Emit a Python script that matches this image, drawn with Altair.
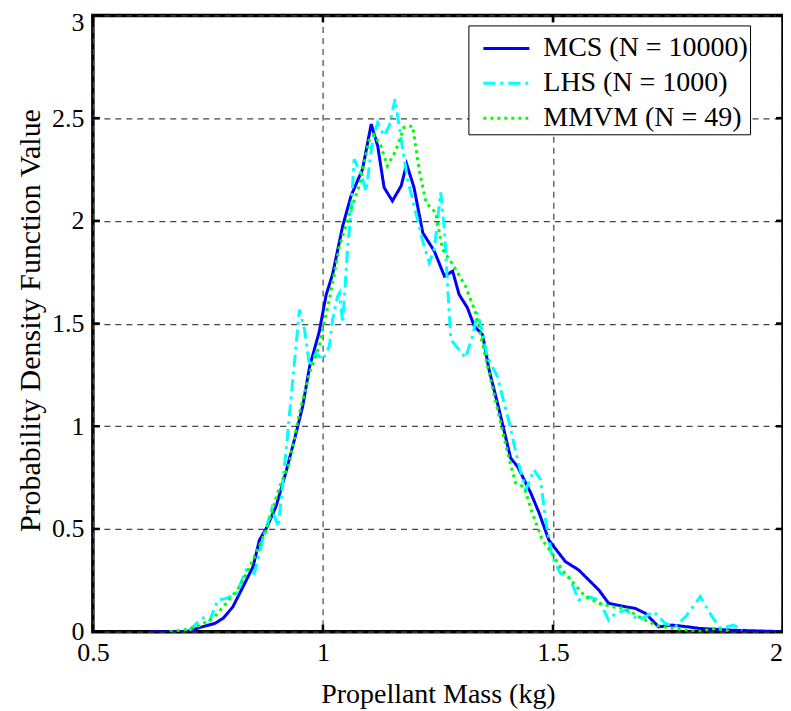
import altair as alt
import pandas as pd

# ---------------- data ----------------
series_names = ["MCS (N = 10000)", "LHS (N = 1000)", "MMVM (N = 49)"]
series_colors = ["#0000FF", "#00FFFF", "#00FF00"]
series_dashes = [[1, 0], [12, 5, 3, 5], [3, 4]]

mcs_x = [0.624, 0.704, 0.732, 0.765, 0.783, 0.804, 0.830, 0.848, 0.862, 0.877,
         0.898, 0.920, 0.938, 0.956, 0.971, 0.992, 1.007, 1.021, 1.043, 1.061,
         1.086, 1.105, 1.119, 1.133, 1.151, 1.170, 1.182, 1.198, 1.217, 1.242,
         1.264, 1.282, 1.296, 1.314, 1.329, 1.347, 1.361, 1.383, 1.408, 1.423,
         1.452, 1.470, 1.491, 1.527, 1.556, 1.600, 1.621, 1.658, 1.679, 1.701,
         1.730, 1.759, 1.795, 1.817, 1.888, 2.000]
mcs_y = [0.0, 0.0, 0.02, 0.04, 0.065, 0.12, 0.235, 0.316, 0.446, 0.503,
         0.609, 0.78, 0.934, 1.097, 1.29, 1.46, 1.64, 1.74, 1.975, 2.121,
         2.251, 2.471, 2.365, 2.162, 2.097, 2.17, 2.276, 2.162, 1.942, 1.853,
         1.731, 1.755, 1.641, 1.577, 1.487, 1.446, 1.276, 1.08, 0.845, 0.804,
         0.674, 0.577, 0.446, 0.341, 0.30, 0.202, 0.138, 0.121, 0.113, 0.089,
         0.023, 0.032, 0.023, 0.016, 0.007, 0.0]

lhs_x = [0.710, 0.725, 0.743, 0.754, 0.772, 0.790, 0.812, 0.833, 0.851, 0.869,
         0.889, 0.903, 0.920, 0.938, 0.949, 0.960, 0.971, 0.985, 1.000, 1.014,
         1.021, 1.032, 1.036, 1.043, 1.054, 1.061, 1.068, 1.083, 1.094, 1.108,
         1.119, 1.133, 1.144, 1.157, 1.170, 1.184, 1.202, 1.216, 1.231, 1.242,
         1.256, 1.264, 1.271, 1.278, 1.310, 1.325, 1.336, 1.347, 1.357, 1.379,
         1.405, 1.423, 1.441, 1.459, 1.473, 1.484, 1.498, 1.516, 1.535, 1.556,
         1.578, 1.600, 1.621, 1.636, 1.658, 1.687, 1.719, 1.744, 1.766, 1.788,
         1.820, 1.846, 1.864, 1.893, 1.911]
lhs_y = [0.007, 0.04, 0.072, 0.056, 0.154, 0.162, 0.186, 0.30, 0.284, 0.446,
         0.60, 0.511, 0.885, 1.308, 1.568, 1.471, 1.292, 1.357, 1.324, 1.39,
         1.52, 1.633, 1.65, 1.503, 1.877, 2.04, 2.30, 2.227, 2.145, 2.397,
         2.479, 2.414, 2.462, 2.593, 2.397, 2.202, 2.04, 1.91, 1.796, 1.861,
         2.138, 1.959, 1.682, 1.422, 1.333, 1.438, 1.552, 1.455, 1.34, 1.243,
         1.016, 0.837, 0.69, 0.788, 0.739, 0.544, 0.365, 0.284, 0.267, 0.154,
         0.17, 0.154, 0.056, 0.089, 0.105, 0.056, 0.097, 0.04, 0.024, 0.072,
         0.17, 0.072, 0.016, 0.032, 0.007]

mmvm_x = [0.667, 0.703, 0.732, 0.761, 0.790, 0.819, 0.848, 0.877, 0.906, 0.927,
          0.949, 0.971, 0.992, 1.014, 1.036, 1.061, 1.079, 1.100, 1.111, 1.126,
          1.140, 1.158, 1.176, 1.195, 1.209, 1.224, 1.245, 1.260, 1.282, 1.310,
          1.332, 1.353, 1.383, 1.405, 1.419, 1.437, 1.455, 1.477, 1.498, 1.520,
          1.542, 1.571, 1.600, 1.629, 1.658, 1.687, 1.723, 1.759, 1.817, 1.853,
          1.888]
mmvm_y = [0.0, 0.01, 0.03, 0.065, 0.138, 0.219, 0.349, 0.495, 0.706, 0.82,
          1.065, 1.26, 1.39, 1.617, 1.877, 2.056, 2.17, 2.39, 2.42, 2.365,
          2.267, 2.34, 2.455, 2.462, 2.251, 2.089, 2.04, 1.861, 1.788, 1.682,
          1.552, 1.34, 1.048, 0.837, 0.723, 0.706, 0.577, 0.446, 0.381, 0.30,
          0.243, 0.17, 0.138, 0.121, 0.113, 0.072, 0.032, 0.016, 0.0, 0.016,
          0.0]

x_ticks = [0.5, 1.0, 1.5, 2.0]
y_ticks = [0.0, 0.5, 1.0, 1.5, 2.0, 2.5, 3.0]

x_title = "Propellant Mass (kg)"
y_title = "Probability Density Function Value"

# ---------------- build tables ----------------
# legend labels get a trailing en/thin space so the legend box keeps its right margin
label_pad = "\u2002\u2009"
legend_domain = [n + label_pad for n in series_names]
frames = []
for name, xs, ys in zip(legend_domain, [mcs_x, lhs_x, mmvm_x], [mcs_y, lhs_y, mmvm_y]):
    frames.append(pd.DataFrame({"mass": xs, "pdf": ys, "series": name}))
df = pd.concat(frames, ignore_index=True)
df["order"] = range(len(df))

xt = pd.DataFrame({"mass": x_ticks})
yt = pd.DataFrame({"pdf": y_ticks})

W, H = 691, 617
FONT = "Liberation Serif"

xscale = alt.Scale(domain=[0.5, 2.0], nice=False, zero=False)
yscale = alt.Scale(domain=[0.0, 3.0], nice=False)

# a wide horizontal stroke symbol
legend = alt.Legend(
    title=None, orient="none", legendX=376, legendY=10,
    symbolType="M-1.18,0H1.18", symbolSize=1521, symbolStrokeWidth=3,
    symbolFillColor="transparent",
    labelFont=FONT, labelFontSize=28, labelColor="black", labelLimit=500,
    labelOffset=16, symbolOffset=15, rowPadding=0, padding=2,
    fillColor="white", strokeColor="black",
)

color_enc = alt.Color("series:N", scale=alt.Scale(domain=legend_domain, range=series_colors),
                      legend=legend)
dash_enc = alt.StrokeDash("series:N", scale=alt.Scale(domain=legend_domain, range=series_dashes),
                          legend=legend)

x_axis = alt.Axis(values=x_ticks, format="~g", title=x_title, ticks=False, domain=False,
                  grid=True, labelFlush=False, labelPadding=8,
                  labelOffset={"condition": {"test": "datum.value == 2", "value": -7}, "value": 0},
                  titleY=71, titleBaseline="alphabetic")
y_axis = alt.Axis(values=y_ticks, format="~g", title=y_title, ticks=False, domain=False,
                  grid=True, labelFlush=False, labelPadding=9,
                  labelOffset={"condition": {"test": "datum.value == 3", "value": 7}, "value": 0},
                  titleX=-47, titleY=305, titleFontSize=30)

X = alt.X("mass:Q", scale=xscale, axis=x_axis)
Y = alt.Y("pdf:Q", scale=yscale, axis=y_axis)

base = alt.Chart(df)
layers = []
for name in legend_domain:
    layers.append(
        base.transform_filter(alt.datum.series == name)
        .mark_line(strokeWidth=3, clip=True)
        .encode(x=X, y=Y, color=color_enc, strokeDash=dash_enc, order="order:Q")
    )

tick_len = 7
rule = dict(color="black", strokeWidth=2.5)
bottom_ticks = alt.Chart(xt).mark_rule(**rule).encode(
    x=X, y=alt.value(H), y2=alt.value(H - tick_len))
top_ticks = alt.Chart(xt).mark_rule(**rule).encode(
    x=X, y=alt.value(0), y2=alt.value(tick_len))
left_ticks = alt.Chart(yt).mark_rule(**rule).encode(
    y=Y, x=alt.value(0), x2=alt.value(tick_len))
right_ticks = alt.Chart(yt).mark_rule(**rule).encode(
    y=Y, x=alt.value(W), x2=alt.value(W - tick_len))

chart = alt.layer(*layers, bottom_ticks, top_ticks, left_ticks, right_ticks).properties(
    width=W, height=H,
    autosize=alt.AutoSizeParams(type="none"),
    padding={"left": 85, "top": 7, "right": 0, "bottom": 79},
    background="white",
).configure_view(
    stroke="black", strokeWidth=3.5
).configure_axis(
    labelFont=FONT, labelFontSize=26, labelColor="black",
    titleFont=FONT, titleFontSize=28, titleFontWeight="normal", titleColor="black",
    gridColor="#444444", gridDash=[6, 5], gridWidth=1.2, gridOpacity=1,
)

chart.save("out.html", embed_options={"renderer": "svg", "actions": False})
